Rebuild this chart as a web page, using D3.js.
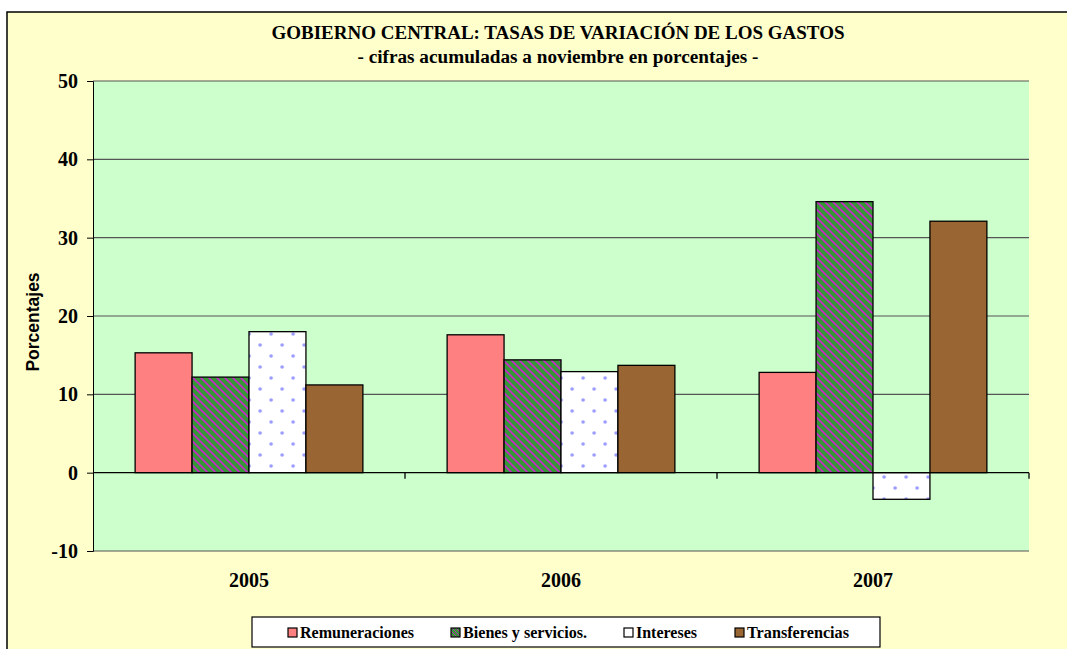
<!DOCTYPE html>
<html><head><meta charset="utf-8">
<script src="https://cdn.jsdelivr.net/npm/d3@7/dist/d3.min.js"></script>
<style>body{margin:0;background:#fff}svg{display:block}</style>
</head><body>
<script>
const categories = ["2005", "2006", "2007"];
const seriesNames = ["Remuneraciones", "Bienes y servicios.", "Intereses", "Transferencias"];
const remuneraciones = [15.3, 17.6, 12.8];
const bienes = [12.2, 14.4, 34.6];
const intereses = [18.0, 12.9, -3.4];
const transferencias = [11.2, 13.7, 32.1];
const yTicks = [-10, 0, 10, 20, 30, 40, 50];
const seriesValues = [remuneraciones, bienes, intereses, transferencias];

const SERIF = "Liberation Serif, Times New Roman, serif";
const W = 1067, H = 649;
const svg = d3.select("body").append("svg").attr("width", W).attr("height", H);
const defs = svg.append("defs");

// hatch pattern for Bienes
const ph = defs.append("pattern").attr("id", "hatch").attr("patternUnits", "userSpaceOnUse")
  .attr("width", 8).attr("height", 8);
ph.append("rect").attr("width", 8).attr("height", 8).attr("fill", "#339933");
ph.append("path").attr("d", "M-2,-2 L10,10 M-6,2 L2,10 M6,-2 L10,2")
  .attr("stroke", "#d020d0").attr("stroke-width", 1.6);
const phs = defs.append("pattern").attr("id", "hatchS").attr("patternUnits", "userSpaceOnUse")
  .attr("width", 4).attr("height", 4);
phs.append("rect").attr("width", 4).attr("height", 4).attr("fill", "#339933");
phs.append("path").attr("d", "M-1,-1 L5,5").attr("stroke", "#c020c0").attr("stroke-width", 1);
// dots pattern for Intereses
const pd = defs.append("pattern").attr("id", "dots").attr("patternUnits", "userSpaceOnUse")
  .attr("width", 22).attr("height", 22);
pd.append("rect").attr("width", 22).attr("height", 22).attr("fill", "#ffffff");
[[4,4],[15,15]].forEach(([x,y]) => pd.append("circle").attr("cx", x).attr("cy", y).attr("r", 1.8).attr("fill", "#9a9aff"));

const fills = ["#ff8080", "url(#hatch)", "url(#dots)", "#996633"];
const legendFills = ["#ff8080", "url(#hatchS)", "#ffffff", "#996633"];

// outer frame
svg.append("rect").attr("x", 7).attr("y", 12).attr("width", W + 10).attr("height", H + 10)
  .attr("fill", "#ffffcc").attr("stroke", "#000").attr("stroke-width", 1.5);

const plot = {left: 93, right: 1029, top: 81, bottom: 551};
const y = d3.scaleLinear().domain([-10, 50]).range([plot.bottom, plot.top]);
const x0 = d3.scaleBand().domain(categories).range([plot.left, plot.right]).paddingInner(0.27).paddingOuter(0.135);
const x1 = d3.scaleBand().domain(seriesNames).range([0, x0.bandwidth()]);

svg.append("rect").attr("x", plot.left).attr("y", plot.top).attr("width", plot.right - plot.left)
  .attr("height", plot.bottom - plot.top).attr("fill", "#ccffcc");

// gridlines
svg.append("g").selectAll("line").data(yTicks).join("line")
  .attr("x1", plot.left).attr("x2", plot.right).attr("y1", d => y(d)).attr("y2", d => y(d))
  .attr("stroke", d => d === 0 ? "none" : "#555").attr("stroke-width", 1.2);

// y axis
const yAxis = svg.append("g").attr("transform", `translate(${plot.left},0)`)
  .call(d3.axisLeft(y).tickValues(yTicks).tickFormat(d => String(d)).tickSize(6).tickPadding(9));
yAxis.select(".domain").attr("stroke", "#000");
yAxis.selectAll("line").attr("stroke", "#000");
yAxis.selectAll("text").attr("font-family", SERIF)
  .attr("font-weight", "bold").attr("font-size", 20).attr("fill", "#000");

// bars
const groups = svg.append("g").selectAll("g").data(categories).join("g")
  .attr("transform", d => `translate(${x0(d)},0)`);
groups.selectAll("rect").data((d, i) => seriesNames.map((s, j) => ({s, j, v: seriesValues[j][i]})))
  .join("rect")
  .attr("x", d => x1(d.s)).attr("width", x1.bandwidth())
  .attr("y", d => y(Math.max(0, d.v))).attr("height", d => Math.abs(y(d.v) - y(0)))
  .attr("fill", d => fills[d.j]).attr("stroke", "#000").attr("stroke-width", 1.3);

// x axis at zero
svg.append("line").attr("x1", plot.left).attr("x2", plot.right).attr("y1", y(0)).attr("y2", y(0))
  .attr("stroke", "#000").attr("stroke-width", 1.3);
const bounds = categories.map((c, i) => plot.left + (plot.right - plot.left) * (i + 1) / categories.length);
svg.append("g").selectAll("line").data(bounds).join("line")
  .attr("x1", d => d).attr("x2", d => d).attr("y1", y(0)).attr("y2", y(0) + 6)
  .attr("stroke", "#000").attr("stroke-width", 1.3);

// category labels
svg.append("g").selectAll("text").data(categories).join("text")
  .attr("x", d => x0(d) + x0.bandwidth() / 2).attr("y", 587)
  .attr("text-anchor", "middle").attr("font-family", SERIF)
  .attr("font-weight", "bold").attr("font-size", 20).text(d => d);

// titles
svg.append("text").attr("x", 558).attr("y", 39).attr("text-anchor", "middle")
  .attr("font-family", SERIF).attr("font-weight", "bold")
  .attr("font-size", 19).attr("textLength", 573).attr("lengthAdjust", "spacingAndGlyphs")
  .text("GOBIERNO CENTRAL: TASAS DE VARIACIÓN DE LOS GASTOS");
svg.append("text").attr("x", 558).attr("y", 63).attr("text-anchor", "middle")
  .attr("font-family", SERIF).attr("font-weight", "bold")
  .attr("font-size", 18).attr("textLength", 401).attr("lengthAdjust", "spacingAndGlyphs")
  .text("- cifras acumuladas a noviembre en porcentajes  -");

// y title
svg.append("text").attr("transform", "translate(39,322) rotate(-90)").attr("text-anchor", "middle")
  .attr("font-family", "Liberation Sans, Arial, sans-serif").attr("font-weight", "bold")
  .attr("font-size", 17.5).text("Porcentajes");

// legend
const lg = svg.append("g");
lg.append("rect").attr("x", 252).attr("y", 617).attr("width", 628).attr("height", 30)
  .attr("fill", "#fff").attr("stroke", "#000").attr("stroke-width", 1.2);
const legX = [288, 451, 624, 735];
const legLen = [114, 124, 61, 102];
seriesNames.forEach((s, j) => {
  lg.append("rect").attr("x", legX[j]).attr("y", 628).attr("width", 9).attr("height", 9)
    .attr("fill", legendFills[j]).attr("stroke", "#000").attr("stroke-width", 1.2);
  lg.append("text").attr("x", legX[j] + 12).attr("y", 638)
    .attr("font-family", SERIF).attr("font-weight", "bold")
    .attr("font-size", 16).attr("textLength", legLen[j]).attr("lengthAdjust", "spacingAndGlyphs").text(s);
});
</script>
</body></html>
